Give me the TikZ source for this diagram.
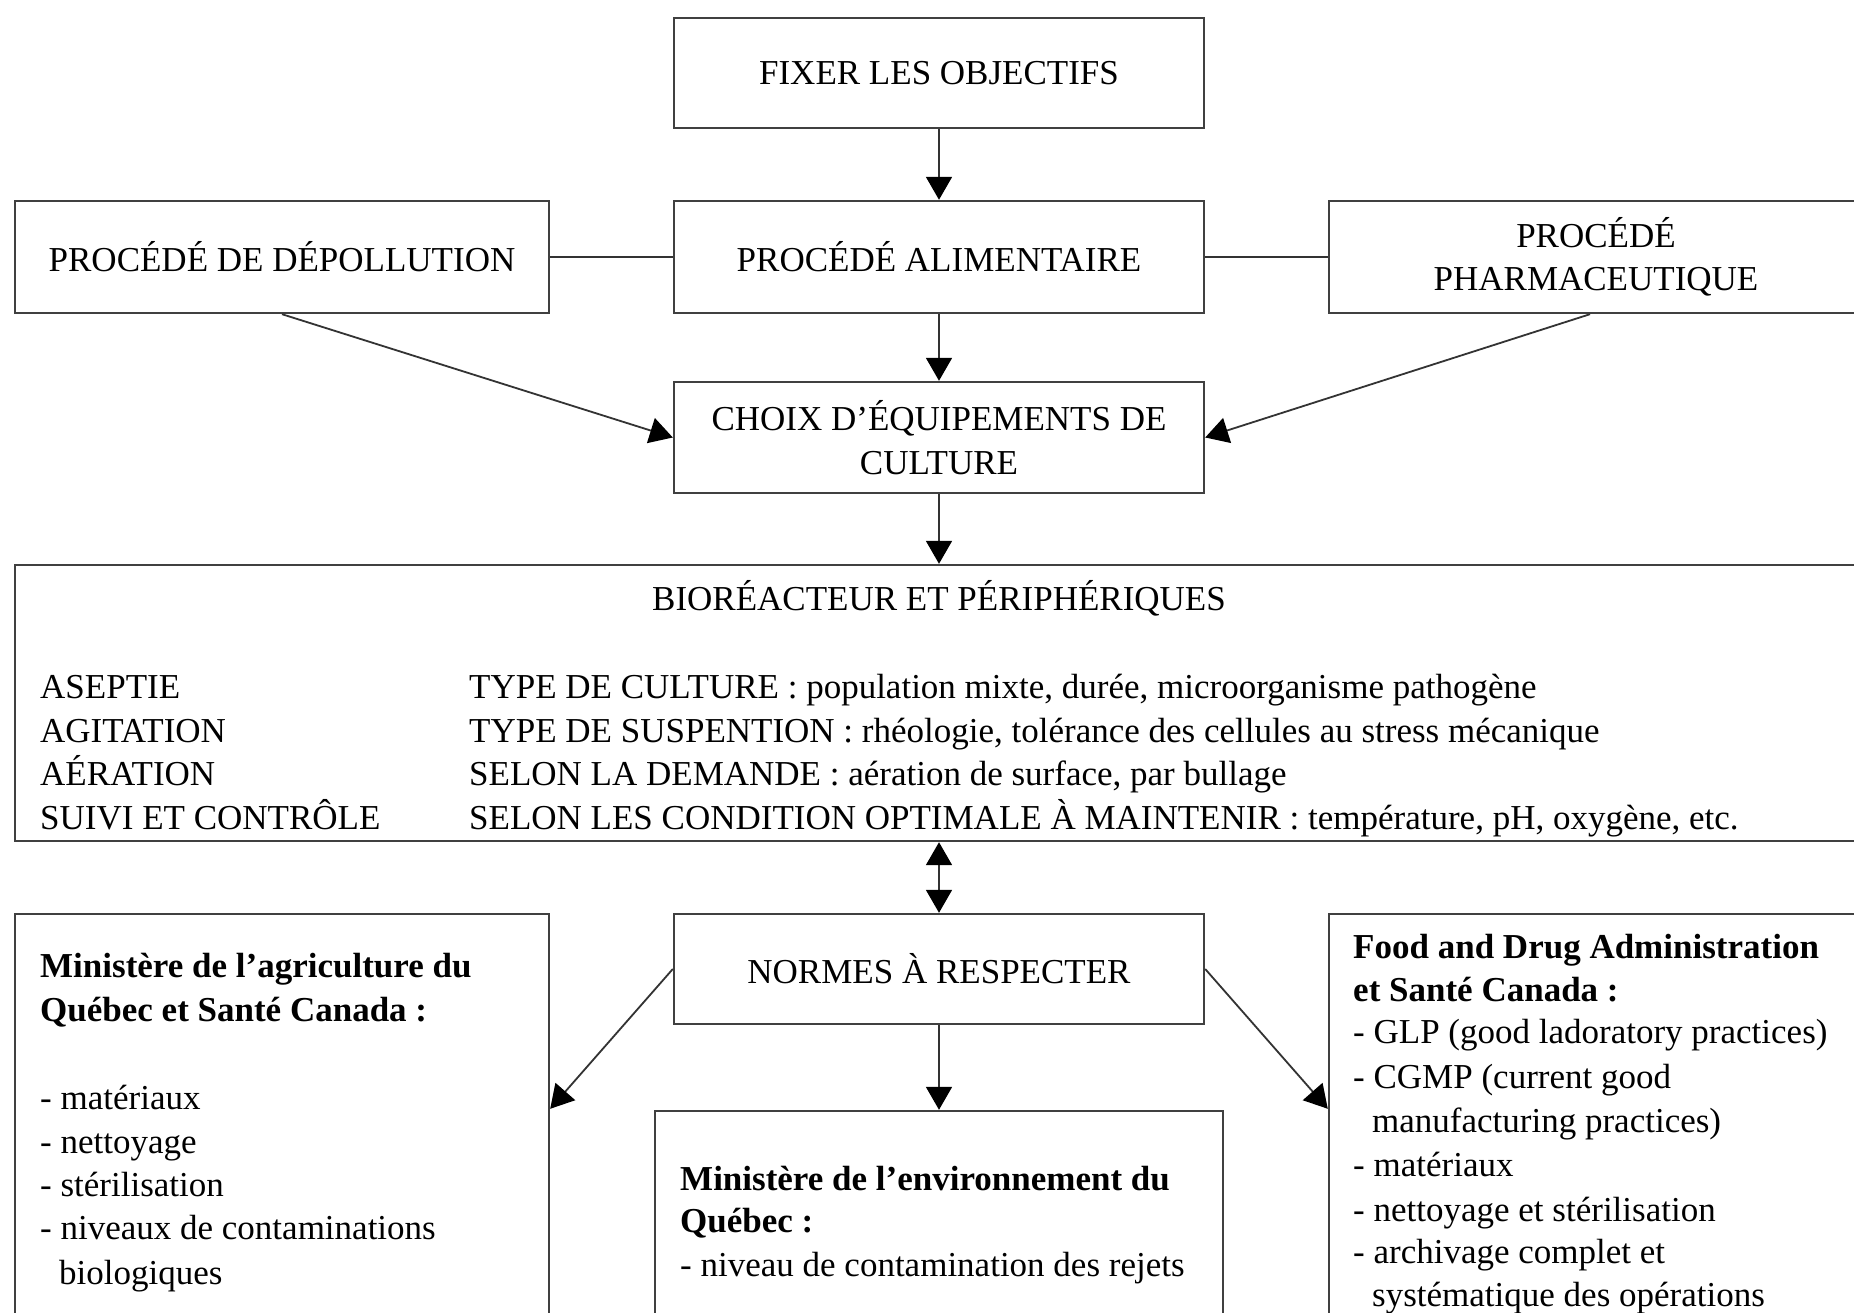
\documentclass[tikz,border=0pt]{standalone}
\usepackage{fontspec}
\setmainfont{Liberation Serif}
\usetikzlibrary{arrows.meta,calc}
\begin{document}
\begin{tikzpicture}[x=1pt,y=-1pt,
  box/.style={draw=black!75,line width=2.4pt,rectangle,inner sep=0pt,align=center,font=\fontsize{35}{43.5}\selectfont},
  txt/.style={inner sep=0pt,anchor=base west,font=\fontsize{35}{43.5}\selectfont},
  ln/.style={draw=black!80,line width=1.8pt},
  arr/.style={ln,-{Triangle[length=23pt,width=26pt,fill=black,color=black]}},
  darr/.style={ln,{Triangle[length=23pt,width=26pt,fill=black,color=black]}-{Triangle[length=23pt,width=26pt,fill=black,color=black]}}]
\useasboundingbox (0,0) rectangle (1854,1313);
\fill[white] (0,0) rectangle (1854,1313);

\node[box,minimum width=530,minimum height=110] (fix) at (939,73) {\raisebox{-5pt}{FIXER LES OBJECTIFS}};
\node[box,minimum width=534,minimum height=112] (dep) at (282,257) {PROCÉDÉ DE DÉPOLLUTION};
\node[box,minimum width=530,minimum height=112] (alim) at (939,257) {PROCÉDÉ ALIMENTAIRE};
\node[box,minimum width=534,minimum height=112] (pha) at (1596,257) {PROCÉDÉ\\PHARMACEUTIQUE};
\node[box,minimum width=530,minimum height=111] (choix) at (939,437.5) {CHOIX D’ÉQUIPEMENTS DE\\CULTURE};

\node[box,minimum width=1854,minimum height=276] (bio) at (942,703) {};
\node[txt,anchor=base] (biot) at (939,610) {BIORÉACTEUR ET PÉRIPHÉRIQUES};
\node[txt] (a1) at (40,698) {ASEPTIE};
\node[txt] (a2) at (40,742) {AGITATION};
\node[txt] (a3) at (40,785) {AÉRATION};
\node[txt] (a4) at (40,829) {SUIVI ET CONTRÔLE};
\node[txt] (b1) at (469,698) {TYPE DE CULTURE : population mixte, durée, microorganisme pathogène};
\node[txt] (b2) at (469,742) {TYPE DE SUSPENTION : rhéologie, tolérance des cellules au stress mécanique};
\node[txt] (b3) at (469,785) {SELON LA DEMANDE : aération de surface, par bullage};
\node[txt] (b4) at (469,829) {SELON LES CONDITION OPTIMALE À MAINTENIR : température, pH, oxygène, etc.};

\node[box,minimum width=530,minimum height=110] (norm) at (939,969) {\raisebox{-4pt}{NORMES À RESPECTER}};
\node[box,minimum width=534,minimum height=430] (lbox) at (282,1129) {};
\node[box,minimum width=568,minimum height=230] (mbox) at (939,1226) {};
\node[box,minimum width=534,minimum height=430] (rbox) at (1596,1129) {};

\node[txt,font=\fontsize{35}{43.5}\selectfont\bfseries] (l1) at (40,977) {Ministère de l’agriculture du};
\node[txt,font=\fontsize{35}{43.5}\selectfont\bfseries] (l2) at (40,1021) {Québec et Santé Canada :};
\node[txt] (l3) at (40,1109) {- matériaux};
\node[txt] (l4) at (40,1153) {- nettoyage};
\node[txt] (l5) at (40,1196) {- stérilisation};
\node[txt] (l6) at (40,1239) {- niveaux de contaminations};
\node[txt] (l7) at (59,1284) {biologiques};

\node[txt,font=\fontsize{35}{43.5}\selectfont\bfseries] (m1) at (680,1190) {Ministère de l’environnement du};
\node[txt,font=\fontsize{35}{43.5}\selectfont\bfseries] (m2) at (680,1232) {Québec :};
\node[txt] (m3) at (680,1276) {- niveau de contamination des rejets};

\node[txt,font=\fontsize{35}{43.5}\selectfont\bfseries] (r1) at (1353,958) {Food and Drug Administration};
\node[txt,font=\fontsize{35}{43.5}\selectfont\bfseries] (r2) at (1353,1001) {et Santé Canada :};
\node[txt] (r3) at (1353,1043) {- GLP (good ladoratory practices)};
\node[txt] (r4) at (1353,1088) {- CGMP (current good};
\node[txt] (r5) at (1372,1132) {manufacturing practices)};
\node[txt] (r6) at (1353,1176) {- matériaux};
\node[txt] (r7) at (1353,1221) {- nettoyage et stérilisation};
\node[txt] (r8) at (1353,1263) {- archivage complet et};
\node[txt] (r9) at (1372,1306) {systématique des opérations};

\draw[arr] (fix.south) -- (alim.north);
\draw[ln] (dep.east) -- (alim.west);
\draw[ln] (alim.east) -- (pha.west);
\draw[arr] (alim.south) -- (choix.north);
\draw[arr] (dep.south) -- (choix.west);
\draw[arr] ([xshift=-6pt]pha.south) -- (choix.east);
\draw[arr] (choix.south) -- (bio.north -| choix.south);
\draw[darr] (bio.south -| norm.north) -- (norm.north);
\draw[arr] (norm.south) -- (mbox.north);
\draw[arr] (norm.west) -- ([yshift=-196pt]lbox.north east);
\draw[arr] (norm.east) -- ([yshift=-196pt]rbox.north west);
\end{tikzpicture}
\end{document}
